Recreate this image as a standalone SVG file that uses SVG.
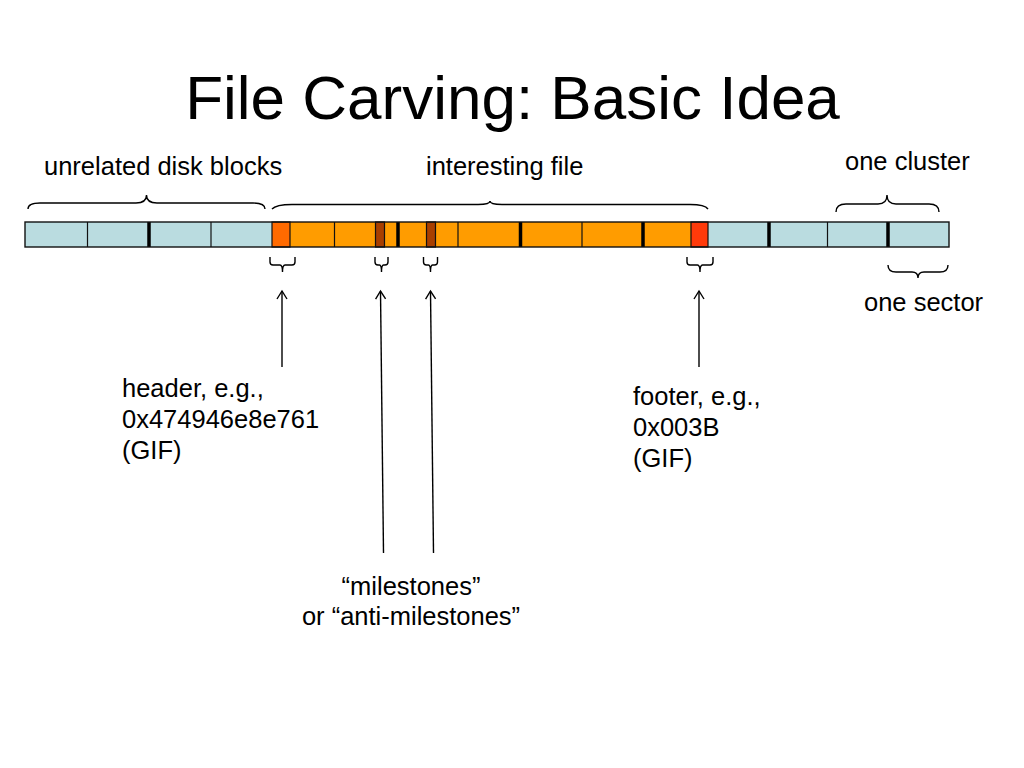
<svg xmlns="http://www.w3.org/2000/svg" width="1024" height="768" viewBox="0 0 1024 768">
<defs>
<style>
.t{font-family:"Liberation Sans",Arial,Helvetica,sans-serif;fill:#000}
.lbl{font-size:25.5px}
.brace{fill:none;stroke:#000;stroke-width:1.4}
.thin{stroke:#111;stroke-width:1.2}
.thick{stroke:#000;stroke-width:3.5}
.blue{fill:#BADCE0}
.orange{fill:#FF9C00}
.hdr{fill:#FF6A00;stroke:#111;stroke-width:1.2}
.ftr{fill:#FF3A0A;stroke:#111;stroke-width:1.2}
.ms{fill:#A83F00;stroke:#111;stroke-width:1.2}
.arrow{stroke:#000;stroke-width:1.4;fill:none;marker-end:url(#open)}
</style>
<marker id="open" markerUnits="userSpaceOnUse" markerWidth="14" markerHeight="14" viewBox="-10 -7 12 14" refX="0" refY="0" orient="auto">
<path d="M-8,-5 L0,0 L-8,5" fill="none" stroke="#000" stroke-width="1.4"/>
</marker>
</defs>
<rect width="1024" height="768" fill="#fff"/>

<g id="title">
<text class="t" x="512.5" y="119" font-size="62" text-anchor="middle">File Carving: Basic Idea</text>
</g>

<g id="disk-bar">
<rect class="blue" x="25" y="222" width="247" height="25"/>
<rect class="orange" x="272" y="222" width="419" height="25"/>
<rect class="blue" x="708" y="222" width="241" height="25"/>
<rect id="header-sector" class="hdr" x="272" y="222" width="18" height="25"/>
<rect id="footer-sector" class="ftr" x="691" y="222" width="17" height="25"/>
<rect id="milestone-1" class="ms" x="375.5" y="222" width="9" height="25"/>
<rect id="milestone-2" class="ms" x="426.5" y="222" width="9" height="25"/>
<g class="thin">
<line x1="87.5" y1="222" x2="87.5" y2="247"/>
<line x1="211" y1="222" x2="211" y2="247"/>
<line x1="334.5" y1="222" x2="334.5" y2="247"/>
<line x1="458" y1="222" x2="458" y2="247"/>
<line x1="582" y1="222" x2="582" y2="247"/>
<line x1="827.5" y1="222" x2="827.5" y2="247"/>
</g>
<g class="thick">
<line x1="149" y1="222" x2="149" y2="247"/>
<line x1="398" y1="222" x2="398" y2="247"/>
<line x1="520.5" y1="222" x2="520.5" y2="247"/>
<line x1="643" y1="222" x2="643" y2="247"/>
<line x1="769" y1="222" x2="769" y2="247"/>
<line x1="888" y1="222" x2="888" y2="247"/>
</g>
<rect x="25" y="222" width="924" height="25" fill="none" stroke="#111" stroke-width="1.4"/>
</g>

<g id="braces">
<path id="brace-unrelated" class="brace" d="M28,209 Q28,203 40,203 L136,203 Q146.5,203 146.5,195 Q146.5,203 157,203 L253,203 Q265,203 265,209"/>
<path id="brace-file" class="brace" d="M272,209 Q276,204.5 292,204.5 L478,204.5 Q490,204.5 490,201 Q490,204.5 502,204.5 L690,204.5 Q705,204.5 708,209"/>
<path id="brace-cluster" class="brace" d="M836,212 Q836,204 846,204 L878,204 Q887,204 887,195 Q887,204 896,204 L929,204 Q939,204 939,212"/>
<path id="brace-header" class="brace" d="M270,257 L270,262 Q270,265 273,265 L280,265 Q282.5,265 282.5,272 Q282.5,265 285,265 L292,265 Q295,265 295,262 L295,257"/>
<path id="brace-ms1" class="brace" d="M375,257 L375,262 Q375,265 378,265 L379.5,265 Q381.5,265 381.5,272 Q381.5,265 383.5,265 L385,265 Q388,265 388,262 L388,257"/>
<path id="brace-ms2" class="brace" d="M423.5,257 L423.5,262 Q423.5,265 426.5,265 L428.5,265 Q430.5,265 430.5,272 Q430.5,265 432.5,265 L434.5,265 Q437.5,265 437.5,262 L437.5,257"/>
<path id="brace-footer" class="brace" d="M687,257 L687,262 Q687,265 690,265 L697.5,265 Q700,265 700,272 Q700,265 702.5,265 L710,265 Q713,265 713,262 L713,257"/>
<path id="brace-sector" class="brace" d="M888,265 Q888,272 896,272 L912,272 Q918,272 918,278 Q918,272 924,272 L940,272 Q948,272 948,265"/>
</g>

<g id="connectors">
<line class="arrow" x1="282" y1="367" x2="282" y2="291"/>
<line class="arrow" x1="383.5" y1="553" x2="380.5" y2="291"/>
<line class="arrow" x1="433.5" y1="553" x2="430.5" y2="291"/>
<line class="arrow" x1="699" y1="367" x2="699" y2="291"/>
</g>

<g id="label-unrelated"><text class="t lbl" x="44" y="175">unrelated disk blocks</text></g>
<g id="label-file"><text class="t lbl" x="426" y="175">interesting file</text></g>
<g id="label-cluster"><text class="t lbl" x="845" y="170">one cluster</text></g>
<g id="label-sector"><text class="t lbl" x="864" y="311">one sector</text></g>
<g id="label-header">
<text class="t lbl" x="122" y="397">header, e.g.,</text>
<text class="t lbl" x="122" y="428">0x474946e8e761</text>
<text class="t lbl" x="122" y="459">(GIF)</text>
</g>
<g id="label-footer">
<text class="t lbl" x="633" y="405">footer, e.g.,</text>
<text class="t lbl" x="633" y="436">0x003B</text>
<text class="t lbl" x="633" y="467">(GIF)</text>
</g>
<g id="label-milestones">
<text class="t lbl" x="411" y="595" text-anchor="middle">“milestones”</text>
<text class="t lbl" x="411" y="625" text-anchor="middle">or “anti-milestones”</text>
</g>
</svg>
